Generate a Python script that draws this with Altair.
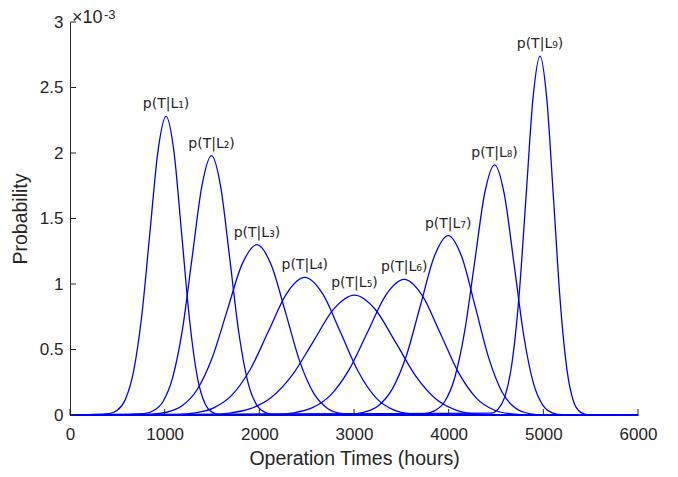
import altair as alt
import pandas as pd

# ---- data (probability in units of 1e-3) ----
curve_names = ["L1", "L2", "L3", "L4", "L5", "L6", "L7", "L8", "L9"]
label_text = ["p(T|L₁)", "p(T|L₂)", "p(T|L₃)", "p(T|L₄)", "p(T|L₅)",
              "p(T|L₆)", "p(T|L₇)", "p(T|L₈)", "p(T|L₉)"]
peak_hours = [1015, 1495, 1975, 2480, 3005, 3530, 3995, 4485, 4965]
peak_prob = [2.28, 1.98, 1.30, 1.05, 0.915, 1.035, 1.37, 1.91, 2.74]

hours_L1 = [0, 413, 499, 585, 671, 757, 843, 929, 1015, 1098, 1180, 1263, 1345, 1428, 1510, 1593, 6000]
prob_L1 = [0, 0.011, 0.036, 0.119, 0.331, 0.752, 1.384, 2.013, 2.280, 2.011, 1.379, 0.725, 0.290, 0.084, 0.018, 0.002, 0]

hours_L2 = [0, 778, 880, 983, 1085, 1188, 1290, 1393, 1495, 1591, 1687, 1783, 1879, 1975, 2071, 2167, 6000]
prob_L2 = [0, 0.010, 0.032, 0.103, 0.287, 0.653, 1.202, 1.748, 1.980, 1.746, 1.198, 0.630, 0.251, 0.073, 0.016, 0.002, 0]

hours_L3 = [0, 862, 1021, 1180, 1339, 1498, 1657, 1816, 1975, 2125, 2275, 2425, 2575, 2725, 2875, 3025, 6000]
prob_L3 = [0, 0.007, 0.021, 0.068, 0.189, 0.429, 0.789, 1.148, 1.300, 1.147, 0.787, 0.413, 0.165, 0.048, 0.010, 0.001, 0]

hours_L4 = [0, 1133, 1325, 1518, 1710, 1903, 2095, 2288, 2480, 2668, 2855, 3043, 3230, 3418, 3605, 3793, 6000]
prob_L4 = [0, 0.005, 0.017, 0.055, 0.152, 0.347, 0.637, 0.927, 1.050, 0.926, 0.635, 0.334, 0.133, 0.039, 0.008, 0.001, 0]

hours_L5 = [0, 1465, 1685, 1905, 2125, 2345, 2565, 2785, 3005, 3223, 3440, 3658, 3875, 4093, 4310, 4528, 6000]
prob_L5 = [0, 0.005, 0.015, 0.048, 0.133, 0.302, 0.555, 0.808, 0.915, 0.807, 0.554, 0.291, 0.116, 0.034, 0.007, 0.001, 0]

hours_L6 = [0, 2165, 2360, 2555, 2750, 2945, 3140, 3335, 3530, 3720, 3910, 4100, 4290, 4480, 4670, 4860, 6000]
prob_L6 = [0, 0.005, 0.017, 0.054, 0.150, 0.342, 0.628, 0.914, 1.035, 0.913, 0.626, 0.329, 0.131, 0.038, 0.008, 0.001, 0]

hours_L7 = [0, 2963, 3110, 3258, 3405, 3553, 3700, 3848, 3995, 4138, 4280, 4423, 4565, 4708, 4850, 4993, 6000]
prob_L7 = [0, 0.007, 0.022, 0.071, 0.199, 0.452, 0.832, 1.210, 1.370, 1.208, 0.829, 0.436, 0.174, 0.051, 0.011, 0.001, 0]

hours_L8 = [0, 3743, 3849, 3955, 4061, 4167, 4273, 4379, 4485, 4588, 4690, 4793, 4895, 4998, 5100, 5203, 6000]
prob_L8 = [0, 0.010, 0.031, 0.099, 0.277, 0.630, 1.159, 1.687, 1.910, 1.685, 1.156, 0.607, 0.243, 0.071, 0.015, 0.002, 0]

hours_L9 = [0, 4447, 4521, 4595, 4669, 4743, 4817, 4891, 4965, 5036, 5107, 5178, 5249, 5320, 5391, 5462, 6000]
prob_L9 = [0, 0.014, 0.044, 0.142, 0.397, 0.904, 1.663, 2.419, 2.740, 2.417, 1.658, 0.871, 0.348, 0.101, 0.022, 0.003, 0]

x_ticks = [0, 1000, 2000, 3000, 4000, 5000, 6000]
y_ticks = [0, 0.5, 1, 1.5, 2, 2.5, 3]

hours_all = [hours_L1, hours_L2, hours_L3, hours_L4, hours_L5, hours_L6, hours_L7, hours_L8, hours_L9]
prob_all = [prob_L1, prob_L2, prob_L3, prob_L4, prob_L5, prob_L6, prob_L7, prob_L8, prob_L9]

rows = []
for name, hs, ps in zip(curve_names, hours_all, prob_all):
    for i, (h, p) in enumerate(zip(hs, ps)):
        rows.append({"curve": name, "order": i, "hours": h, "prob": p})
df = pd.DataFrame(rows)

labels_df = pd.DataFrame({"text": label_text, "hours": peak_hours, "prob": peak_prob})

W, H = 568, 393
INK = "#262626"
BLUE = "#0000FF"

x_scale = alt.Scale(domain=[0, 6000], nice=False, zero=False)
y_scale = alt.Scale(domain=[0, 3], nice=False)
x_axis = alt.Axis(title="Operation Times (hours)", values=x_ticks, format="d",
                  labelPadding=11, titlePadding=7, labelFlush=False)
y_axis = alt.Axis(title="Probability", values=y_ticks, format="~g",
                  labelPadding=7, titlePadding=9, labelFlush=False)


def X(field="hours"):
    return alt.X(f"{field}:Q", scale=x_scale, axis=x_axis, title="Operation Times (hours)")


def Y(field="prob"):
    return alt.Y(f"{field}:Q", scale=y_scale, axis=y_axis, title="Probability")


lines = alt.Chart(df).mark_line(color=BLUE, strokeWidth=1.3, interpolate="monotone").encode(
    x=X(), y=Y(), detail="curve:N", order="order:Q",
)

labels = alt.Chart(labels_df).mark_text(
    font="DejaVu Sans", fontSize=14, color=INK, baseline="alphabetic", align="center", dy=-8
).encode(x=X(), y=Y(), text="text:N")

xt = alt.Chart(pd.DataFrame({"hours": x_ticks})).mark_rule(color=INK, strokeWidth=1).encode(
    x=X(), y=alt.value(H), y2=alt.value(H - 6),
)
yt = alt.Chart(pd.DataFrame({"prob": y_ticks})).mark_rule(color=INK, strokeWidth=1).encode(
    y=Y(), x=alt.value(0), x2=alt.value(6),
)

one = pd.DataFrame({"a": [0]})
exp_base = alt.Chart(one).mark_text(
    text="×10", font="Liberation Sans", fontSize=18, color=INK, align="left", baseline="alphabetic"
).encode(x=alt.value(2), y=alt.value(1))
exp_sup = alt.Chart(one).mark_text(
    text="-3", font="Liberation Sans", fontSize=13, color=INK, align="left", baseline="alphabetic"
).encode(x=alt.value(34), y=alt.value(-3))

chart = alt.layer(lines, labels, xt, yt, exp_base, exp_sup).properties(
    width=W, height=H,
    autosize=alt.AutoSizeParams(type="none"),
    padding={"left": 62, "top": 14, "right": 32, "bottom": 62},
).configure_axis(
    domainColor=INK, domainWidth=1, labelColor=INK, titleColor=INK,
    labelFont="Liberation Sans", titleFont="Liberation Sans",
    labelFontSize=17, titleFontSize=19.5, titleFontWeight="normal",
    grid=False, ticks=False,
).configure_view(stroke=None)

chart.save("out.html", embed_options={"renderer": "svg", "actions": False})
